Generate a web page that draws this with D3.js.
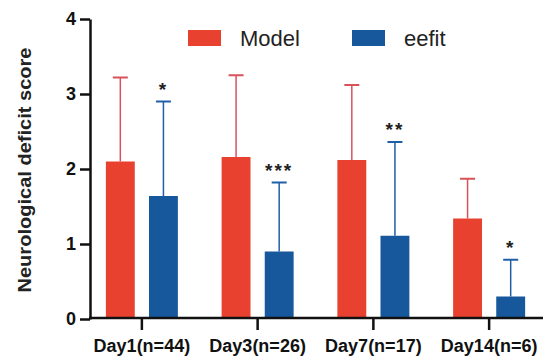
<!DOCTYPE html>
<html>
<head>
<meta charset="utf-8">
<script src="https://cdn.jsdelivr.net/npm/d3@7"></script>
<style>
  body { margin: 0; background: #fff; }
  text { font-family: "Liberation Sans", Arial, sans-serif; }
</style>
</head>
<body>
<div id="chart"></div>
<script>
let days = ["Day1(n=44)", "Day3(n=26)", "Day7(n=17)", "Day14(n=6)"];
let series = ["Model", "eefit"];
let modelMean = [2.10, 2.16, 2.12, 1.34];
let modelSD = [1.12, 1.09, 1.00, 0.53];
let eefitMean = [1.64, 0.90, 1.11, 0.30];
let eefitSD = [1.26, 0.92, 1.25, 0.49];
let stars = ["*", "***", "**", "*"];
let yTicks = [0, 1, 2, 3, 4];

let width = 547, height = 356;
let colors = {Model: "#e8412f", eefit: "#17589c"};
let errColors = {Model: "#d9525a", eefit: "#1f5fa8"};

let svg = d3.select("#chart")
            .append("svg")
            .attr("width", width)
            .attr("height", height);

let yscale = d3.scaleLinear()
               .domain([0, 4])
               .range([319, 19]);

let xscale = d3.scaleBand()
               .domain(days)
               .range([84, 547]);

let inner = d3.scaleBand()
              .domain(series)
              .range([-36, 36])
              .paddingInner(0.33);

let rows = [];
days.forEach((d, i) => {
  rows.push({day: d, s: "Model", mean: modelMean[i], sd: modelSD[i]});
  rows.push({day: d, s: "eefit", mean: eefitMean[i], sd: eefitSD[i], star: stars[i]});
});

let cx = d => xscale(d.day) + xscale.bandwidth() / 2 + inner(d.s) + inner.bandwidth() / 2;

// error bars (upper only)
svg.selectAll("line.err")
   .data(rows)
   .enter()
   .append("line")
   .attr("x1", cx)
   .attr("x2", cx)
   .attr("y1", d => yscale(d.mean))
   .attr("y2", d => yscale(d.mean + d.sd))
   .attr("stroke", d => errColors[d.s])
   .attr("stroke-width", 1.5);

svg.selectAll("line.cap")
   .data(rows)
   .enter()
   .append("line")
   .attr("x1", d => cx(d) - 7.5)
   .attr("x2", d => cx(d) + 7.5)
   .attr("y1", d => yscale(d.mean + d.sd))
   .attr("y2", d => yscale(d.mean + d.sd))
   .attr("stroke", d => errColors[d.s])
   .attr("stroke-width", 2);

svg.selectAll("rect.bar")
   .data(rows)
   .enter()
   .append("rect")
   .attr("x", d => cx(d) - inner.bandwidth() / 2)
   .attr("width", inner.bandwidth())
   .attr("y", d => yscale(d.mean))
   .attr("height", d => yscale(0) - yscale(d.mean))
   .attr("fill", d => colors[d.s]);

svg.selectAll("text.star")
   .data(rows.filter(d => d.star))
   .enter()
   .append("text")
   .text(d => d.star)
   .attr("x", cx)
   .attr("y", d => yscale(d.mean + d.sd) - 6)
   .attr("text-anchor", "middle")
   .attr("font-size", 19)
   .attr("font-weight", "bold")
   .attr("letter-spacing", 2)
   .attr("fill", "#222");

// axes
let yaxis = svg.append("g")
               .attr("transform", "translate(90,0)")
               .call(d3.axisLeft(yscale).tickValues(yTicks).tickFormat(d3.format("d"))
                       .tickSize(10).tickSizeOuter(0).tickPadding(4));

yaxis.selectAll("path, line").attr("stroke", "#111").attr("stroke-width", 2.5);
yaxis.selectAll("text")
     .attr("font-size", 18)
     .attr("font-weight", "bold")
     .attr("fill", "#111")
     .style("font-family", "'Liberation Sans', Arial, sans-serif");

let xaxis = svg.append("g")
               .attr("transform", "translate(0,318)")
               .call(d3.axisBottom(xscale).tickSize(12).tickSizeOuter(0).tickPadding(9));

xaxis.select(".domain").remove();
xaxis.append("line")
     .attr("x1", 89)
     .attr("x2", 543)
     .attr("stroke", "#111")
     .attr("stroke-width", 2.5);
xaxis.selectAll("line").attr("stroke", "#111").attr("stroke-width", 2.5);
xaxis.selectAll("text")
     .attr("font-size", 18)
     .attr("font-weight", "bold")
     .attr("fill", "#111")
     .style("font-family", "'Liberation Sans', Arial, sans-serif");

svg.append("text")
   .text("Neurological deficit score")
   .attr("transform", "translate(31,170) rotate(-90)")
   .attr("text-anchor", "middle")
   .attr("font-size", 18)
   .attr("textLength", 245)
   .attr("lengthAdjust", "spacingAndGlyphs")
   .attr("font-weight", "bold")
   .attr("fill", "#222");

// legend
let legendX = [188, 352];
series.forEach((s, i) => {
  svg.append("rect")
     .attr("x", legendX[i])
     .attr("y", 30)
     .attr("width", 33)
     .attr("height", 16)
     .attr("fill", colors[s]);
  svg.append("text")
     .text(s)
     .attr("x", legendX[i] + 52)
     .attr("y", 46)
     .attr("font-size", 22)
     .attr("fill", "#222");
});
</script>
</body>
</html>
